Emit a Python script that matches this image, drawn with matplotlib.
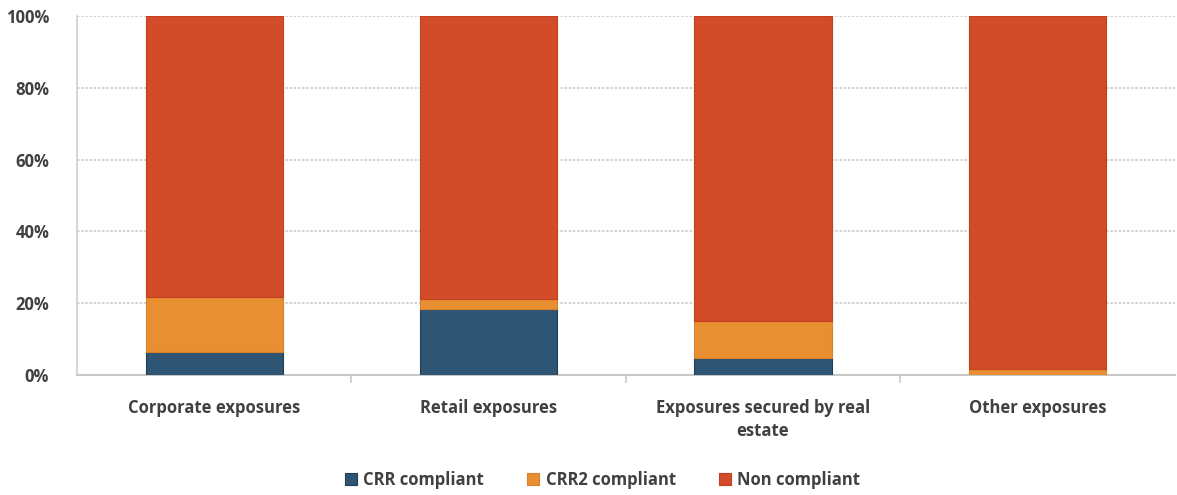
import numpy as np
import matplotlib
matplotlib.use("Agg")
import matplotlib.pyplot as plt
from matplotlib.ticker import PercentFormatter

plt.rcParams['font.family'] = ['Open Sans', 'DejaVu Sans']

categories = ['Corporate exposures', 'Retail exposures',
              'Exposures secured by real\nestate', 'Other exposures']
crr = [6.3, 18.4, 4.8, 0.0]
crr2 = [15.3, 2.9, 10.3, 1.6]
non_compliant = [78.4, 78.7, 84.9, 98.4]

series_names = ['CRR compliant', 'CRR2 compliant', 'Non compliant']
colors = ['#2E5573', '#E88F32', '#D34C29']
edges = ['#1F3E57', '#D9812A', '#C0401F']

fig = plt.figure(figsize=(11.77, 4.95), dpi=100)
ax = fig.add_axes([0.0654, 0.2424, 0.9325, 0.7253])

x = np.arange(len(categories))
bottom = np.zeros(len(categories))
for vals, name, c, e in zip([crr, crr2, non_compliant], series_names, colors, edges):
    ax.bar(x, vals, width=0.5, bottom=bottom, color=c, edgecolor=e,
           linewidth=0.8, label=name, zorder=3)
    bottom += np.array(vals)

ax.set_xlim(-0.5, len(categories) - 0.5)
ax.set_ylim(0, 100)
ax.set_yticks(np.arange(0, 101, 20))
ax.yaxis.set_major_formatter(PercentFormatter(decimals=0))
ax.grid(axis='y', color='#CCCCCC', linestyle=(0, (1.5, 1)), linewidth=1.2, zorder=0)

for s in ['top', 'right']:
    ax.spines[s].set_visible(False)
ax.spines['left'].set_color('#D0D0D0')
ax.spines['left'].set_linestyle((0, (1.5, 1)))
ax.spines['left'].set_linewidth(1.2)
ax.spines['bottom'].set_color('#C8C8C8')
ax.spines['bottom'].set_linewidth(1.5)

ax.set_xticks(x)
ax.set_xticklabels(categories, fontsize=12, fontweight='bold',
                   color='#404040', linespacing=1.4)
ax.tick_params(axis='x', length=0, pad=17)
ax.set_xticks(np.arange(0.5, len(categories) - 1, 1), minor=True)
ax.tick_params(axis='x', which='minor', length=6, color='#C8C8C8', width=1.2)
ax.tick_params(axis='y', length=0, labelsize=12, labelcolor='#404040', pad=20)
for lbl in ax.get_yticklabels():
    lbl.set_fontweight('bold')

leg = fig.legend(loc='center', bbox_to_anchor=(0.512, 0.03), ncol=3, frameon=False,
                 handlelength=0.7, handleheight=0.7, handletextpad=0.4,
                 columnspacing=2.6, prop={'size': 12, 'weight': 'bold'})
for t in leg.get_texts():
    t.set_color('#404040')

fig.savefig('out.png', dpi=100)
